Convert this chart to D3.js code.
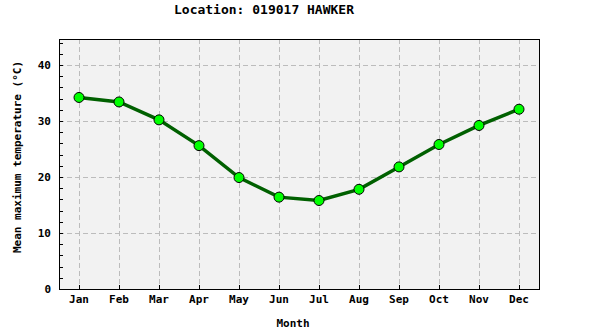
<!DOCTYPE html>
<html>
<head>
<meta charset="utf-8">
<script src="https://cdn.jsdelivr.net/npm/d3@7"></script>
<style>
  body { margin: 0; background: #fff; }
  text { font-family: "DejaVu Sans Mono", monospace; font-weight: bold; }
</style>
</head>
<body>
<div id="chart"></div>
<script>
const months = ['Jan', 'Feb', 'Mar', 'Apr', 'May', 'Jun', 'Jul', 'Aug', 'Sep', 'Oct', 'Nov', 'Dec'];
const meanMaxTemp = [34.2, 33.4, 30.2, 25.6, 19.9, 16.4, 15.8, 17.8, 21.8, 25.8, 29.2, 32.1];
const yTicks = [0, 10, 20, 30, 40];

const width = 591, height = 336;
const margin = {top: 39, right: 52, bottom: 47, left: 59};
const w = width - margin.left - margin.right;
const h = height - margin.top - margin.bottom;

const svg = d3.select('#chart').append('svg')
  .attr('width', width)
  .attr('height', height);

const g = svg.append('g')
  .attr('transform', 'translate(' + margin.left + ',' + margin.top + ')');

const x = d3.scaleBand().domain(months).range([0, w]);
const y = d3.scaleLinear().domain([0, 44.64]).range([h, 0]);
const cx = d => x(d) + x.bandwidth() / 2;

// plot background
g.append('rect')
  .attr('width', w)
  .attr('height', h)
  .attr('fill', '#f2f2f2');

// grid
g.append('g')
  .selectAll('line')
  .data(months)
  .enter().append('line')
    .attr('x1', d => cx(d) + 0.5).attr('x2', d => cx(d) + 0.5)
    .attr('y1', 0).attr('y2', h)
    .attr('stroke', '#bcbcbc')
    .attr('stroke-dasharray', '5,3');

g.append('g')
  .selectAll('line')
  .data(yTicks.filter(d => d > 0))
  .enter().append('line')
    .attr('x1', 0).attr('x2', w)
    .attr('y1', d => Math.round(y(d)) + 0.5).attr('y2', d => Math.round(y(d)) + 0.5)
    .attr('stroke', '#bcbcbc')
    .attr('stroke-dasharray', '5,3');

// Y Axis (inward ticks)
const minor = d3.range(0, 45, 2);
g.append('g')
  .selectAll('line')
  .data(minor)
  .enter().append('line')
    .attr('x1', 0).attr('x2', 4)
    .attr('y1', d => Math.round(y(d)) + 0.5).attr('y2', d => Math.round(y(d)) + 0.5)
    .attr('stroke', '#000');

g.append('g')
  .selectAll('text')
  .data(yTicks)
  .enter().append('text')
    .attr('x', -8)
    .attr('y', d => y(d) + 4)
    .attr('text-anchor', 'end')
    .attr('font-size', '11px')
    .text(d => d);

// X Axis (inward ticks)
g.append('g')
  .selectAll('line')
  .data(months)
  .enter().append('line')
    .attr('x1', d => cx(d) + 0.5).attr('x2', d => cx(d) + 0.5)
    .attr('y1', h).attr('y2', h - 4)
    .attr('stroke', '#000');

g.append('g')
  .selectAll('text')
  .data(months)
  .enter().append('text')
    .attr('x', d => cx(d))
    .attr('y', h + 14)
    .attr('text-anchor', 'middle')
    .attr('font-size', '11px')
    .text(d => d);

// frame
g.append('rect')
  .attr('x', 0.5).attr('y', 0.5)
  .attr('width', w).attr('height', h)
  .attr('fill', 'none')
  .attr('stroke', '#000');

// line
const line = d3.line()
  .x((d, i) => cx(months[i]))
  .y(d => y(d));

g.append('path')
  .datum(meanMaxTemp)
  .attr('d', line)
  .attr('fill', 'none')
  .attr('stroke', '#006000')
  .attr('stroke-width', 3.5);

// markers
g.append('g')
  .selectAll('circle')
  .data(meanMaxTemp)
  .enter().append('circle')
    .attr('cx', (d, i) => cx(months[i]))
    .attr('cy', d => y(d))
    .attr('r', 5)
    .attr('fill', '#00ff00')
    .attr('stroke', '#000')
    .attr('stroke-width', 1);

// titles
svg.append('text')
  .attr('x', 264)
  .attr('y', 14)
  .attr('text-anchor', 'middle')
  .attr('font-size', '13px')
  .text('Location: 019017 HAWKER');

svg.append('text')
  .attr('x', 293)
  .attr('y', 327)
  .attr('text-anchor', 'middle')
  .attr('font-size', '11px')
  .text('Month');

svg.append('text')
  .attr('transform', 'translate(21,157) rotate(-90)')
  .attr('text-anchor', 'middle')
  .attr('font-size', '11px')
  .text('Mean maximum temperature (°C)');
</script>
</body>
</html>
